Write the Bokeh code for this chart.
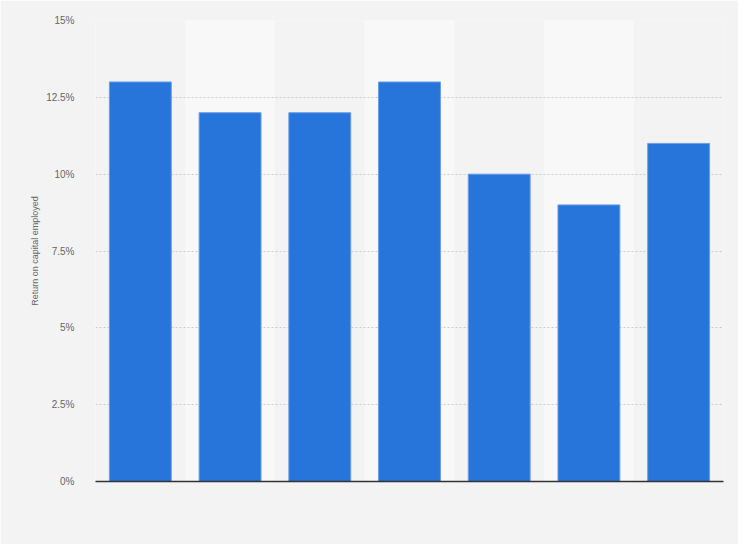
from bokeh.plotting import figure
from bokeh.models import FixedTicker
from bokeh.embed import file_html
from bokeh.resources import INLINE

categories = ["1", "2", "3", "4", "5", "6", "7"]
roce = [13, 12, 12, 13, 10, 9, 11]
band_cats = ["2", "4", "6"]
y_ticks = [0, 2.5, 5, 7.5, 10, 12.5, 15]
y_tick_labels = ["0%", "2.5%", "5%", "7.5%", "10%", "12.5%", "15%"]

p = figure(x_range=categories, y_range=(0, 15),
           frame_width=628, frame_height=461,
           min_border_left=95, min_border_right=15,
           min_border_top=20, min_border_bottom=63,
           output_backend="svg", toolbar_location=None)

p.background_fill_color = "#f3f3f3"
p.border_fill_color = "#f3f3f3"
p.outline_line_color = None

bands = p.vbar(x=band_cats, top=[y_ticks[-1]] * len(band_cats), width=1.0,
               fill_color="#f8f8f8", line_color=None)
bands.level = "image"

p.vbar(x=categories, top=roce, width=0.69,
       fill_color="#2775db", line_color="#6a9ee8", line_width=1)

p.xgrid.grid_line_color = None
p.ygrid.grid_line_color = "#cccccc"
p.ygrid.grid_line_dash = "2 2"
p.ygrid.ticker = FixedTicker(ticks=y_ticks)

p.yaxis.ticker = FixedTicker(ticks=y_ticks)
p.yaxis.major_label_overrides = {t: l for t, l in zip(y_ticks, y_tick_labels)}
p.yaxis.axis_line_color = None
p.yaxis.major_tick_line_color = None
p.yaxis.minor_tick_line_color = None
p.yaxis.major_label_text_color = "#666666"
p.yaxis.major_label_text_font = "Liberation Sans"
p.yaxis.major_label_text_font_size = "10px"
p.yaxis.major_label_standoff = 15
p.yaxis.axis_label = "Return on capital employed"
p.yaxis.axis_label_text_font = "Liberation Sans"
p.yaxis.axis_label_text_font_size = "9px"
p.yaxis.axis_label_text_font_style = "normal"
p.yaxis.axis_label_text_color = "#666666"
p.yaxis.axis_label_standoff = 3

p.xaxis.axis_line_color = "#333333"
p.xaxis.axis_line_width = 1.5
p.xaxis.major_tick_line_color = None
p.xaxis.minor_tick_line_color = None
p.xaxis.major_label_text_color = None

open("out.html", "w").write(file_html(p, INLINE))
